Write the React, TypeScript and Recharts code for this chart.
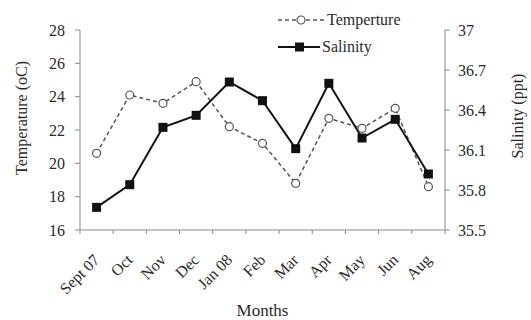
import React from "react";
import {
  Legend,
  Line,
  LineChart,
  XAxis,
  YAxis,
} from "recharts";

const months = ["Sept 07", "Oct", "Nov", "Dec", "Jan 08", "Feb", "Mar", "Apr", "May", "Jun", "Aug"];
const temperature = [20.6, 24.1, 23.6, 24.9, 22.2, 21.2, 18.8, 22.7, 22.1, 23.3, 18.6];
const salinity = [35.67, 35.84, 36.27, 36.36, 36.61, 36.47, 36.11, 36.6, 36.19, 36.33, 35.92];
const tempTicks = [16, 18, 20, 22, 24, 26, 28];
const salTicks = [35.5, 35.8, 36.1, 36.4, 36.7, 37];

const data = months.map((month, i) => ({
  month,
  temperature: temperature[i],
  salinity: salinity[i],
}));

const FONT = "'Liberation Serif', 'DejaVu Serif', serif";
const INK = "#2a2a2a";
const AXIS = "#8a8a8a";
const BAND = 365 / months.length;

function MonthTick(props: any) {
  const { x, y, payload, index } = props;
  return (
    <g transform={`translate(${x},${y})`}>
      <line x1={-BAND / 2} x2={-BAND / 2} y1={0} y2={4} stroke={AXIS} />
      {index === months.length - 1 && (
        <line x1={BAND / 2} x2={BAND / 2} y1={0} y2={4} stroke={AXIS} />
      )}
      <text
        x={0}
        y={0}
        transform="translate(0,27) rotate(-45)"
        textAnchor="end"
        dominantBaseline="central"
        fontFamily={FONT}
        fontSize={16}
        fill={INK}
      >
        {payload.value}
      </text>
    </g>
  );
}

function SquareDot(props: any) {
  const { cx, cy, index } = props;
  if (cx == null || cy == null) return null;
  return <rect key={`sq-${index}`} x={cx - 4.5} y={cy - 4.5} width={9} height={9} fill="#111" />;
}

function LegendBox() {
  return (
    <div style={{ fontFamily: FONT, fontSize: 16, color: INK, lineHeight: "27px" }}>
      <div style={{ display: "flex", alignItems: "center" }}>
        <svg width={50} height={12}>
          <line x1={2} x2={48} y1={6} y2={6} stroke="#555" strokeWidth={1.5} strokeDasharray="4 3" />
          <circle cx={25} cy={6} r={4} fill="#fff" stroke="#555" strokeWidth={1.2} />
        </svg>
        <span style={{ marginLeft: 1 }}>Temperture</span>
      </div>
      <div style={{ display: "flex", alignItems: "center" }}>
        <svg width={46} height={12}>
          <line x1={2} x2={44} y1={6} y2={6} stroke="#111" strokeWidth={2} />
          <rect x={19} y={1.5} width={9} height={9} fill="#111" />
        </svg>
        <span>Salinity</span>
      </div>
    </div>
  );
}

export default function App() {
  return (
    <div style={{ position: "absolute", left: 0, top: 0, width: 531, height: 320, background: "#fff" }}>
      <LineChart
        width={531}
        height={320}
        data={data}
        margin={{ top: 30, right: 0, bottom: 0, left: 0 }}
      >
        <XAxis
          dataKey="month"
          height={90}
          padding={{ left: BAND / 2, right: BAND / 2 }}
          tickLine={false}
          tickSize={0}
          tickMargin={0}
          interval={0}
          stroke={AXIS}
          tick={<MonthTick />}
          label={{
            value: "Months",
            position: "insideBottom",
            offset: 4,
            fontFamily: FONT,
            fontSize: 17,
            fill: INK,
          }}
        />
        <YAxis
          yAxisId="temp"
          width={80}
          domain={[16, 28]}
          ticks={tempTicks}
          interval={0}
          stroke={AXIS}
          tickSize={5}
          tickMargin={10}
          tick={{ fontFamily: FONT, fontSize: 16, fill: INK }}
          label={({ viewBox }: any) => {
            const cx = viewBox.x + 21;
            const cy = viewBox.y + viewBox.height / 2 - 12;
            return (
              <text
                x={cx}
                y={cy}
                transform={`rotate(-90 ${cx} ${cy})`}
                textAnchor="middle"
                dominantBaseline="central"
                fontFamily={FONT}
                fontSize={16}
                fill={INK}
              >
                Temperature (oC)
              </text>
            );
          }}
        />
        <YAxis
          yAxisId="sal"
          orientation="right"
          width={86}
          domain={[35.5, 37]}
          ticks={salTicks}
          interval={0}
          stroke={AXIS}
          tickSize={5}
          tickMargin={8}
          tickFormatter={(v: number) => String(v)}
          tick={{ fontFamily: FONT, fontSize: 16, fill: INK }}
          label={({ viewBox }: any) => {
            const cx = viewBox.x + 72;
            const cy = viewBox.y + viewBox.height / 2 - 14;
            return (
              <text
                x={cx}
                y={cy}
                transform={`rotate(-90 ${cx} ${cy})`}
                textAnchor="middle"
                dominantBaseline="central"
                fontFamily={FONT}
                fontSize={16}
                fill={INK}
              >
                Salinity (ppt)
              </text>
            );
          }}
        />
        <Legend
          layout="vertical"
          align="center"
          verticalAlign="middle"
          wrapperStyle={{ top: 6, left: 276, width: "auto" }}
          content={() => <LegendBox />}
        />
        <Line
          yAxisId="temp"
          dataKey="temperature"
          name="Temperture"
          stroke="#555"
          strokeWidth={1.5}
          strokeDasharray="4 3"
          dot={{ r: 4, fill: "#fff", stroke: "#555", strokeWidth: 1.2, strokeDasharray: "0" }}
          activeDot={false}
          isAnimationActive={false}
        />
        <Line
          yAxisId="sal"
          dataKey="salinity"
          name="Salinity"
          stroke="#111"
          strokeWidth={2}
          dot={<SquareDot />}
          activeDot={false}
          isAnimationActive={false}
        />
      </LineChart>
    </div>
  );
}
